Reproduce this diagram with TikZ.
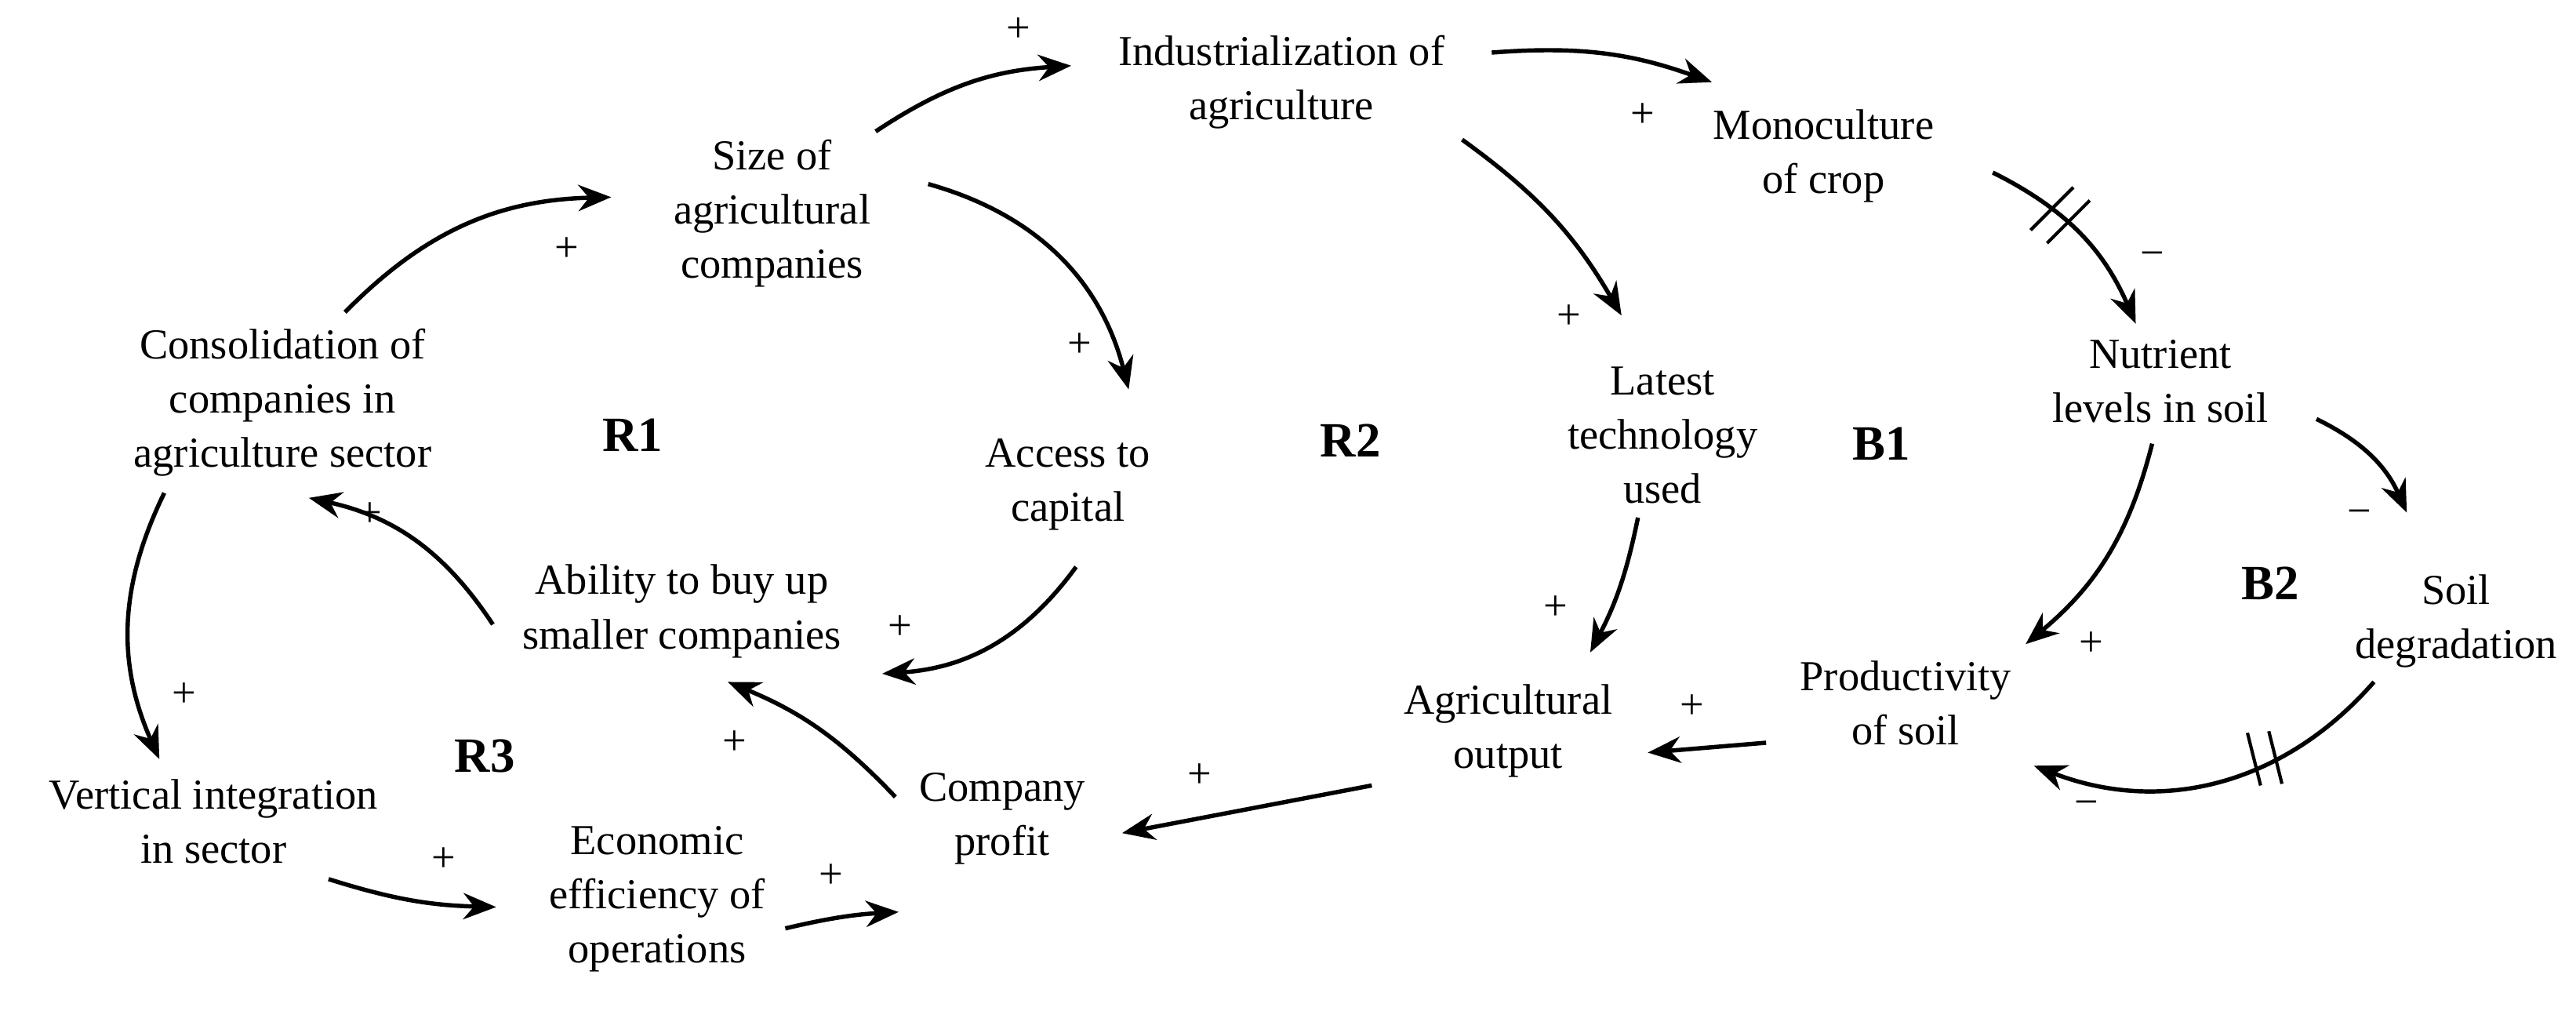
\documentclass[tikz,border=0pt]{standalone}
\usepackage{fontspec}
\setmainfont{Liberation Serif}
\usetikzlibrary{arrows.meta}
\begin{document}
\begin{tikzpicture}[x=1pt,y=1pt,
 lbl/.style={align=center,font=\fontsize{26}{33}\selectfont,inner sep=0pt},
 loopname/.style={font=\fontsize{30}{34}\selectfont\bfseries,inner sep=0pt},
 sgn/.style={font=\fontsize{26}{30}\selectfont,inner sep=0pt},
 arr/.style={line width=2.6pt,-{Stealth[length=20pt,width=16pt]}},
 bars/.style={line width=2pt}]
\useasboundingbox (0,0) rectangle (1568,-615);
\node[lbl] (ind) at (780,-50) {Industrialization of\\agriculture};
\node[lbl] (mono) at (1110,-95) {Monoculture\\of crop};
\node[lbl] (size) at (470,-130) {Size of\\agricultural\\companies};
\node[lbl] (cons) at (172,-245) {Consolidation of\\companies in\\agriculture sector};
\node[loopname] (r1) at (385,-265) {R1};
\node[lbl] (acc) at (650,-295) {Access to\\capital};
\node[loopname] (r2) at (822,-268) {R2};
\node[lbl] (lat) at (1012,-265) {Latest\\technology\\used};
\node[loopname] (b1) at (1145,-270) {B1};
\node[lbl] (nut) at (1315,-232) {Nutrient\\levels in soil};
\node[loopname] (b2) at (1382,-355) {B2};
\node[lbl] (soil) at (1495,-378) {Soil\\degradation};
\node[lbl] (abil) at (415,-372) {Ability to buy up\\smaller companies};
\node[lbl] (prod) at (1160,-428) {Productivity\\of soil};
\node[lbl] (out) at (918,-445) {Agricultural\\output};
\node[loopname] (r3) at (295,-460) {R3};
\node[lbl] (vert) at (130,-500) {Vertical integration\\in sector};
\node[lbl] (prof) at (610,-498) {Company\\profit};
\node[lbl] (eco) at (400,-547) {Economic\\efficiency of\\operations};
% endpoints
\coordinate (a1s) at (533,-80); \coordinate (a1e) at (652,-40);
\coordinate (a2s) at (908,-32); \coordinate (a2e) at (1042,-50);
\coordinate (a3s) at (1213,-105); \coordinate (a3e) at (1300,-197);
\coordinate (a4s) at (890,-85); \coordinate (a4e) at (987,-192);
\coordinate (a5s) at (1410,-255); \coordinate (a5e) at (1465,-312);
\coordinate (a6s) at (1445,-415); \coordinate (a6e) at (1238,-466);
\coordinate (a7s) at (1310,-270); \coordinate (a7e) at (1233,-392);
\coordinate (a8s) at (1075,-452); \coordinate (a8e) at (1003,-458);
\coordinate (a9s) at (997,-315); \coordinate (a9e) at (968,-397);
\coordinate (a10s) at (835,-478); \coordinate (a10e) at (683,-507);
\coordinate (a11s) at (545,-485); \coordinate (a11e) at (443,-415);
\coordinate (a12s) at (655,-345); \coordinate (a12e) at (537,-410);
\coordinate (a13s) at (565,-112); \coordinate (a13e) at (687,-237);
\coordinate (a14s) at (300,-380); \coordinate (a14e) at (188,-303);
\coordinate (a15s) at (210,-190); \coordinate (a15e) at (372,-120);
\coordinate (a16s) at (100,-300); \coordinate (a16e) at (97,-462);
\coordinate (a17s) at (200,-535); \coordinate (a17e) at (302,-552);
\coordinate (a18s) at (478,-565); \coordinate (a18e) at (547,-555);
\draw[arr] (a1s) to[bend left=15] (a1e);
\draw[arr] (a2s) to[bend left=12] (a2e);
\draw[arr] (a3s) to[bend left=20] (a3e);
\draw[arr] (a4s) to[bend left=12] (a4e);
\draw[arr] (a5s) to[bend left=20] (a5e);
\draw[arr] (a6s) to[bend left=35] (a6e);
\draw[arr] (a7s) to[bend left=18] (a7e);
\draw[arr] (a8s) -- (a8e);
\draw[arr] (a9s) to[bend left=8] (a9e);
\draw[arr] (a10s) -- (a10e);
\draw[arr] (a11s) to[bend right=12] (a11e);
\draw[arr] (a12s) to[bend left=25] (a12e);
\draw[arr] (a13s) to[bend left=30] (a13e);
\draw[arr] (a14s) to[bend right=22] (a14e);
\draw[arr] (a15s) to[bend left=22] (a15e);
\draw[arr] (a16s) to[bend right=25] (a16e);
\draw[arr] (a17s) to[bend right=8] (a17e);
\draw[arr] (a18s) to[bend left=5] (a18e);
% delay bars
\draw[bars] (1236,-140) -- (1262,-114); \draw[bars] (1246,-148) -- (1272,-122);
\draw[bars] (1376,-478) -- (1368,-446); \draw[bars] (1389,-477) -- (1381,-445);
% signs
\node[sgn] at (620,-18) {+};
\node[sgn] at (1000,-70) {+};
\node[sgn] at (1310,-158) {\textminus};
\node[sgn] at (955,-193) {+};
\node[sgn] at (1436,-315) {\textminus};
\node[sgn] at (1270,-492) {\textminus};
\node[sgn] at (1273,-392) {+};
\node[sgn] at (1030,-430) {+};
\node[sgn] at (947,-370) {+};
\node[sgn] at (730,-472) {+};
\node[sgn] at (447,-452) {+};
\node[sgn] at (548,-382) {+};
\node[sgn] at (657,-210) {+};
\node[sgn] at (225,-313) {+};
\node[sgn] at (345,-152) {+};
\node[sgn] at (112,-423) {+};
\node[sgn] at (270,-523) {+};
\node[sgn] at (506,-533) {+};
\end{tikzpicture}
\end{document}
